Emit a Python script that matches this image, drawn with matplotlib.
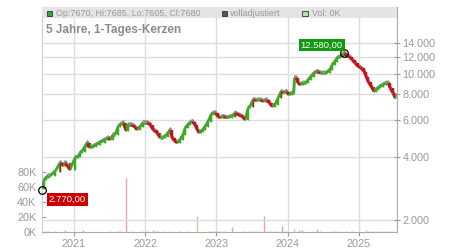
import numpy as np
import pandas as pd
import matplotlib
matplotlib.use("Agg")
import matplotlib.pyplot as plt
import matplotlib.dates as mdates
import matplotlib.transforms as mtransforms
from matplotlib.collections import LineCollection
from matplotlib.patches import Rectangle
from matplotlib.ticker import FuncFormatter, NullLocator

plt.rcParams['font.family'] = ['Liberation Sans', 'DejaVu Sans']

price_dates = ["2020-07-21", "2020-07-31", "2020-08-10", "2020-08-21", "2020-08-31", "2020-09-26",
               "2020-10-21", "2020-11-06", "2020-11-16", "2020-12-11", "2021-01-06", "2021-01-22",
               "2021-02-01", "2021-02-11", "2021-02-26", "2021-03-09", "2021-03-24", "2021-04-08",
               "2021-04-24", "2021-05-14", "2021-06-09", "2021-06-24", "2021-07-05", "2021-07-20",
               "2021-07-30", "2021-08-15", "2021-08-25", "2021-09-09", "2021-09-25", "2021-10-05",
               "2021-10-20", "2021-11-05", "2021-11-20", "2021-12-05", "2021-12-21", "2022-01-10",
               "2022-01-26", "2022-02-10", "2022-03-02", "2022-03-18", "2022-04-02", "2022-04-13",
               "2022-04-28", "2022-05-08", "2022-05-18", "2022-06-03", "2022-06-13", "2022-06-28",
               "2022-07-14", "2022-07-24", "2022-08-08", "2022-08-19", "2022-08-29", "2022-09-13",
               "2022-09-24", "2022-10-04", "2022-10-14", "2022-10-24", "2022-11-04", "2022-11-19",
               "2022-12-04", "2022-12-15", "2022-12-25", "2023-01-09", "2023-01-19", "2023-02-04",
               "2023-02-19", "2023-03-01", "2023-03-22", "2023-04-06", "2023-04-22", "2023-05-12",
               "2023-05-28", "2023-06-12", "2023-06-22", "2023-07-08", "2023-07-23", "2023-08-13",
               "2023-08-28", "2023-09-12", "2023-09-28", "2023-10-13", "2023-10-28", "2023-11-13",
               "2023-11-28", "2023-12-08", "2023-12-24", "2024-01-08", "2024-01-24", "2024-02-01",
               "2024-02-05", "2024-02-13", "2024-02-23", "2024-03-05", "2024-03-20", "2024-04-04",
               "2024-04-15", "2024-04-30", "2024-05-15", "2024-05-31", "2024-06-15", "2024-06-30",
               "2024-07-16", "2024-08-05", "2024-08-16", "2024-08-31", "2024-09-10", "2024-09-26",
               "2024-10-11", "2024-10-16", "2024-10-26", "2024-11-11", "2024-11-26", "2024-12-11",
               "2024-12-27", "2025-01-11", "2025-01-27", "2025-02-06", "2025-02-16", "2025-03-04",
               "2025-03-19", "2025-03-29", "2025-04-08", "2025-04-19", "2025-05-04", "2025-05-20",
               "2025-05-30", "2025-06-09", "2025-06-24", "2025-07-05", "2025-07-10"]
closes = [2800, 3100, 3170, 3240, 3240, 3400,
          3740, 3620, 3750, 3460, 3950, 4000,
          4180, 4240, 4480, 4660, 4410, 4480,
          4560, 4680, 4820, 4920, 4820, 5090,
          5090, 5580, 5680, 5810, 5320, 5680,
          5680, 5580, 5380, 5550, 5810, 5810,
          5680, 5380, 5200, 4920, 4920, 5000,
          5200, 5380, 4920, 4730, 4660, 4820,
          5090, 5480, 5680, 5810, 5890, 5680,
          5380, 5200, 5280, 5380, 5580, 5890,
          6340, 6460, 6480, 6200, 6140, 6230,
          6140, 6160, 6230, 6460, 6340, 6230,
          6000, 6830, 6950, 7480, 7420, 7480,
          7340, 7480, 7240, 6950, 7080, 7620,
          8190, 8050, 8190, 7900, 8070, 8070,
          9525, 9525, 8990, 8820, 8990, 8990,
          9320, 9660, 10030, 10210, 10030, 10030,
          10030, 10400, 10990, 11390, 11830, 12030,
          12270, 12540, 12130, 12030, 11610, 11200,
          10790, 10600, 10210, 9660, 9150, 8660,
          8190, 8350, 8510, 8660, 8820, 8990,
          8990, 8510, 8050, 7620, 7680]

# volume (thousands), direction of the day
vol_dates = ["2020-08-10", "2020-08-21", "2020-09-26", "2020-11-16", "2021-02-18", "2021-07-05",
             "2021-08-16", "2021-08-25", "2021-09-27", "2021-10-24", "2021-12-14", "2022-01-09",
             "2022-02-08", "2022-02-20", "2022-03-08", "2022-04-02", "2022-05-08", "2022-06-28",
             "2022-08-02", "2022-09-22", "2022-11-19", "2022-12-04", "2022-12-15", "2022-12-30",
             "2023-01-09", "2023-01-25", "2023-02-14", "2023-03-23", "2023-05-16", "2023-06-12",
             "2023-06-27", "2023-07-13", "2023-07-28", "2023-08-13", "2023-09-03", "2023-09-16",
             "2023-10-02", "2023-10-22", "2023-11-07", "2023-12-04", "2023-12-26", "2024-02-03",
             "2024-02-29", "2024-03-09", "2024-03-17", "2024-05-03", "2024-05-31", "2024-06-14",
             "2024-08-15", "2024-08-30", "2024-09-14", "2024-10-29", "2024-11-25", "2025-02-04",
             "2025-02-21", "2025-03-09", "2025-03-24", "2025-04-08", "2025-04-24", "2025-05-09",
             "2025-05-25", "2025-06-09", "2025-06-24", "2025-07-13"]
vol_k = [1.2, 1.0, 1.5, 2.5, 2.5, 1.2,
         1.8, 1.5, 72, 1.2, 1.3, 1.2,
         2.7, 2.0, 1.5, 1.5, 1.0, 1.2,
         1.0, 21, 1.3, 1.5, 1.5, 1.3,
         1.3, 1.3, 1.3, 7, 1.2, 1.3,
         1.3, 1.3, 1.3, 1.3, 22, 1.3,
         1.3, 1.3, 1.0, 8.4, 1.5, 4,
         2.7, 2.0, 3.0, 1.3, 4.0, 1.5,
         1.3, 1.3, 1.3, 1.3, 1.3, 2.7,
         1.5, 2.0, 1.5, 2.0, 1.5, 2.0,
         1.5, 2.0, 1.5, 4.0]
vol_dir = ["g", "g", "g", "r", "r", "g",
           "r", "r", "r", "g", "g", "r",
           "r", "r", "g", "g", "r", "r",
           "g", "g", "g", "g", "g", "g",
           "r", "g", "r", "r", "r", "g",
           "r", "g", "g", "g", "r", "g",
           "r", "g", "r", "n", "n", "g",
           "g", "r", "r", "g", "r", "r",
           "r", "g", "r", "r", "r", "g",
           "g", "r", "g", "r", "g", "r",
           "g", "r", "g", "r"]

price_ticks = [2000, 4000, 6000, 8000, 10000, 12000, 14000]
vol_ticks = [0, 20000, 40000, 60000, 80000]
vol_labels = ["0K", "20K", "40K", "60K", "80K"]
years = ["2021", "2022", "2023", "2024", "2025"]

gray = "#999999"
up_col = "#3aaa22"
down_col = "#c8101a"
W, H = 450, 250

fig = plt.figure(figsize=(4.5, 2.5), dpi=100)
ax = fig.add_axes([42 / W, 18 / H, 355 / W, 225 / H])
ax2 = ax.twinx()

x = mdates.date2num(pd.to_datetime(price_dates))
c = np.array(closes, dtype=float)

# volume
vx = mdates.date2num(pd.to_datetime(vol_dates))
vcol = {"g": "#a6dc9c", "r": "#f2a2aa", "n": "#b4b4b4"}
ax.vlines(vx, 0, np.array(vol_k) * 1000, colors=[vcol[d] for d in vol_dir], lw=1.0, zorder=2)
ax.set_ylim(0, 300000)
ax.set_yticks(vol_ticks)
ax.set_yticklabels(vol_labels)

# price: gray adjusted line behind, then candle-like coloured segments
ax2.set_yscale('log')
off = mtransforms.offset_copy(ax2.transData, fig=fig, x=0.5, y=1.8, units='dots')
ax2.plot(x, c, color="#8c8c8c", lw=1.3, transform=off, zorder=3)
segs = [[(x[i - 1], c[i - 1]), (x[i], c[i])] for i in range(1, len(c))]
cols = [up_col if c[i] >= c[i - 1] else down_col for i in range(1, len(c))]
ax2.add_collection(LineCollection(segs, colors=cols, linewidths=1.8, capstyle='butt', zorder=4))
bot = np.minimum(c[:-1], c[1:])
top = np.maximum(c[:-1], c[1:])
ax2.vlines(x[1:], bot, top, colors=cols, lw=1.6, zorder=5)
ax2.vlines(x[1:], c[1:], c[:-1], colors=cols[1:] + [cols[-1]], lw=0.9, zorder=5)
ax2.plot(x[0], 2770, 'o', mfc='none', mec='black', ms=5.5, mew=0.9, zorder=6, clip_on=False)
ax2.plot(mdates.date2num(pd.Timestamp("2024-10-16")), 12580, 'o', mfc='none', mec='black',
         ms=5.5, mew=0.9, zorder=6)
ax2.set_ylim(1751, 20790)
ax2.set_yticks(price_ticks)
ax2.yaxis.set_minor_locator(NullLocator())
ax2.yaxis.set_major_formatter(FuncFormatter(lambda v, p: f"{int(v):,}".replace(",", ".")))

ax.set_xlim(mdates.date2num(pd.Timestamp("2020-07-21")), mdates.date2num(pd.Timestamp("2025-07-15")))
ax.set_xticks(mdates.date2num(pd.to_datetime([y + "-01-01" for y in years])))
ax.set_xticklabels(years)

ax.grid(axis='x', color="#dddddd", lw=1)
ax2.grid(axis='y', color="#dddddd", lw=1)
ax.set_axisbelow(True)
ax2.set_axisbelow(True)

ax.tick_params(axis='y', direction='in', length=3, labelsize=7.8, colors=gray, labelcolor=gray, pad=4)
ax.tick_params(axis='x', direction='out', length=3, labelsize=7.8, colors=gray, labelcolor=gray, pad=2)
ax2.tick_params(axis='y', direction='inout', length=4, labelsize=7.8, colors=gray, labelcolor=gray, pad=2)

for a in (ax, ax2):
    for s in a.spines.values():
        s.set_visible(False)
ax.spines['left'].set_visible(True)
ax.spines['left'].set_color("#cccccc")
ax.spines['top'].set_visible(True)
ax.spines['top'].set_color("#cccccc")
ax.spines['bottom'].set_visible(True)
ax.spines['bottom'].set_color("#aaaaaa")
ax2.spines['right'].set_visible(True)
ax2.spines['right'].set_color("#aaaaaa")


def fx(px):
    return px / W


def fy(py):
    return 1 - py / H


# header band
fig.patches.append(Rectangle((fx(42), fy(18.3)), 355 / W, 11 / H, transform=fig.transFigure,
                             fc="#e4e4e4", ec="none", zorder=1))
for x0, fc in [(46.5, "#33a833"), (222, "#555555"), (302.3, "#b8e2b0")]:
    fig.patches.append(Rectangle((fx(x0), fy(16.3)), 5.3 / W, 5.3 / H, transform=fig.transFigure,
                                 fc=fc, ec="#333333", lw=0.6, zorder=2))
fig.text(fx(55.5), fy(13.5), "Op:7670, Hi:7685, Lo:7605, Cl:7680", fontsize=6.5, color=gray,
         va='center', ha='left')
fig.text(fx(230), fy(13.5), "volladjustiert", fontsize=6.5, color=gray, va='center', ha='left')
fig.text(fx(311.5), fy(13.5), "Vol: 0K", fontsize=6.5, color=gray, va='center', ha='left')
fig.text(fx(46.5), fy(30), "5 Jahre, 1-Tages-Kerzen", fontsize=8.5, color="#8a8a8a",
         fontweight='bold', va='center', ha='left')

# value boxes
fig.text(fx(48.5), fy(199.3), "2.770,00", fontsize=6.8, color="white", va='center', ha='left',
         bbox=dict(boxstyle='square,pad=0.2', fc="#cc0000", ec='none'), zorder=5)
fig.text(fx(300.5), fy(45), "12.580,00", fontsize=6.8, color="white", va='center', ha='left',
         bbox=dict(boxstyle='square,pad=0.2', fc="#119a11", ec='none'), zorder=5)

fig.savefig("out.png", dpi=100)
